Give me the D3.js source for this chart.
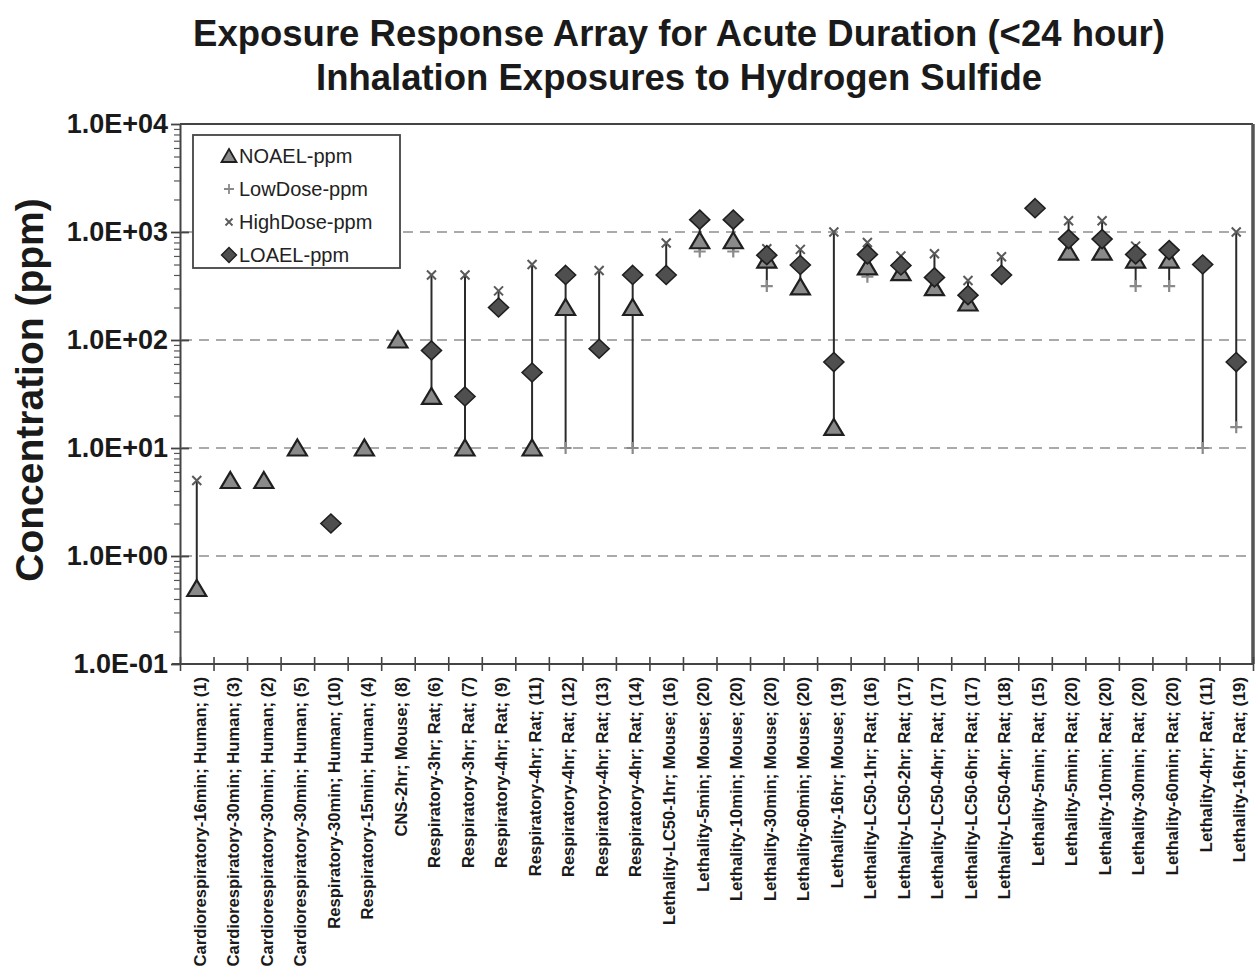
<!DOCTYPE html>
<html>
<head>
<meta charset="utf-8">
<script src="https://cdn.jsdelivr.net/npm/d3@7/dist/d3.min.js"></script>
<style>
  html, body { margin: 0; padding: 0; background: #fff; }
  svg { display: block; font-family: "Liberation Sans", Arial, Helvetica, sans-serif; }
</style>
</head>
<body>
<svg id="chart" width="1259" height="971"></svg>
<script>
// Study endpoints (x categories)
const categories = [
  "Cardiorespiratory-16min; Human; (1)",
  "Cardiorespiratory-30min; Human; (3)",
  "Cardiorespiratory-30min; Human; (2)",
  "Cardiorespiratory-30min; Human; (5)",
  "Respiratory-30min; Human; (10)",
  "Respiratory-15min; Human; (4)",
  "CNS-2hr; Mouse; (8)",
  "Respiratory-3hr; Rat; (6)",
  "Respiratory-3hr; Rat; (7)",
  "Respiratory-4hr; Rat; (9)",
  "Respiratory-4hr; Rat; (11)",
  "Respiratory-4hr; Rat; (12)",
  "Respiratory-4hr; Rat; (13)",
  "Respiratory-4hr; Rat; (14)",
  "Lethality-LC50-1hr; Mouse; (16)",
  "Lethality-5min; Mouse; (20)",
  "Lethality-10min; Mouse; (20)",
  "Lethality-30min; Mouse; (20)",
  "Lethality-60min; Mouse; (20)",
  "Lethality-16hr; Mouse; (19)",
  "Lethality-LC50-1hr; Rat; (16)",
  "Lethality-LC50-2hr; Rat; (17)",
  "Lethality-LC50-4hr; Rat; (17)",
  "Lethality-LC50-6hr; Rat; (17)",
  "Lethality-LC50-4hr; Rat; (18)",
  "Lethality-5min; Rat; (15)",
  "Lethality-5min; Rat; (20)",
  "Lethality-10min; Rat; (20)",
  "Lethality-30min; Rat; (20)",
  "Lethality-60min; Rat; (20)",
  "Lethality-4hr; Rat; (11)",
  "Lethality-16hr; Rat; (19)"
];

// Concentrations in ppm (null = not reported)
const noael = [0.5, 5, 5, 10, null, 10, 100, 30, 10, null, 10, 200, null, 200, null, 830,
               830, 550, 310, 15.5, 475, 420, 305, 220, null, null, 650, 650, 550, 550, null, null];
const lowDose = [null, null, null, null, null, null, null, null, null, null, null, 10, null, 10, null, 660,
                 660, 316, null, null, 385, null, null, null, null, null, null, null, 316, 316, 10, 15.6];
const highDose = [5, null, null, null, null, null, null, 400, 400, 285, 500, null, 440, null, 790, null,
                  null, 700, 690, 1000, 800, 600, 630, 355, 590, null, 1270, 1270, 740, null, null, 1000];
const loael = [null, null, null, null, 2, null, null, 80, 30, 200, 50, 400, 83, 400, 400, 1300,
               1300, 610, 495, 62.5, 620, 490, 380, 260, 400, 1660, 860, 860, 620, 680, 500, 62.5];

const yTickValues = [0.1, 1, 10, 100, 1000, 10000];
const gridValues = [1, 10, 100, 1000];

const seriesNames = ["NOAEL-ppm", "LowDose-ppm", "HighDose-ppm", "LOAEL-ppm"];

const svg = d3.select("#chart");
const plotLeft = 180, plotRight = 1253, plotTop = 124, plotBottom = 664;

const x = d3.scaleBand().domain(categories).range([plotLeft, plotRight]).padding(0);
const xEdge = d3.scaleLinear().domain([0, categories.length]).range([plotLeft, plotRight]);
const y = d3.scaleLog().domain([0.1, 10000]).range([plotBottom, plotTop]);
const cx = c => x(c) + x.bandwidth() / 2;

// Title
const title = svg.append("g").attr("font-weight", "bold").attr("fill", "#1a1a1a")
  .attr("text-anchor", "middle").attr("font-size", 36.5);
title.append("text").attr("x", 679).attr("y", 46).text("Exposure Response Array for Acute Duration (<24 hour)");
title.append("text").attr("x", 679).attr("y", 90).text("Inhalation Exposures to Hydrogen Sulfide");

// Y axis title
svg.append("text")
  .attr("transform", "translate(43,390) rotate(-90)")
  .attr("text-anchor", "middle")
  .attr("font-size", 39).attr("font-weight", "bold").attr("fill", "#1a1a1a")
  .text("Concentration (ppm)");

// Dashed gridlines
svg.append("g").selectAll("line").data(gridValues).join("line")
  .attr("x1", plotLeft + 2).attr("x2", plotRight - 2)
  .attr("y1", d => y(d)).attr("y2", d => y(d))
  .attr("stroke", "#8f8f8f").attr("stroke-width", 1.6)
  .attr("stroke-dasharray", "10,7");

// Frame top / right
svg.append("line").attr("x1", plotLeft).attr("x2", plotRight).attr("y1", plotTop).attr("y2", plotTop)
  .attr("stroke", "#444").attr("stroke-width", 2);
svg.append("line").attr("x1", plotRight).attr("x2", plotRight).attr("y1", plotTop).attr("y2", plotBottom)
  .attr("stroke", "#555").attr("stroke-width", 3.5);

// Y axis: major ticks with labels
const fmt = v => {
  const e = Math.round(Math.log10(v));
  return "1.0E" + (e < 0 ? "-" : "+") + String(Math.abs(e)).padStart(2, "0");
};
const yAxis = svg.append("g").attr("transform", `translate(${plotLeft},0)`)
  .call(d3.axisLeft(y).tickValues(yTickValues).tickFormat(fmt).tickSizeInner(9).tickSizeOuter(0).tickPadding(3));
yAxis.selectAll("text").attr("font-size", 27).attr("font-weight", "bold").attr("fill", "#1a1a1a")
  .attr("font-family", "'Liberation Sans', Arial, sans-serif");
yAxis.select(".domain").attr("stroke", "#444").attr("stroke-width", 2);
yAxis.selectAll(".tick line").attr("stroke", "#444").attr("stroke-width", 1.8);

// Y axis: major ticks extended inside
svg.append("g").attr("transform", `translate(${plotLeft},0)`)
  .call(d3.axisRight(y).tickValues(yTickValues.slice(1, -1)).tickFormat("").tickSizeInner(9).tickSizeOuter(0))
  .call(g => g.select(".domain").remove())
  .selectAll(".tick line").attr("stroke", "#444").attr("stroke-width", 1.8);

// Y axis: minor ticks
const minorValues = [];
for (let e = -1; e < 4; e++) for (let m = 2; m <= 9; m++) minorValues.push(m * Math.pow(10, e));
svg.append("g").attr("transform", `translate(${plotLeft},0)`)
  .call(d3.axisLeft(y).tickValues(minorValues).tickFormat("").tickSizeInner(6).tickSizeOuter(0))
  .call(g => g.select(".domain").remove())
  .selectAll(".tick line").attr("stroke", "#555").attr("stroke-width", 1.2);

// X axis: boundary ticks crossing the axis line
const edges = d3.range(0, categories.length + 1);
svg.append("g").attr("transform", `translate(0,${plotBottom})`)
  .call(d3.axisBottom(xEdge).tickValues(edges).tickFormat("").tickSizeInner(7).tickSizeOuter(0))
  .call(g => g.select(".domain").remove())
  .selectAll(".tick line").attr("stroke", "#444").attr("stroke-width", 1.6);
svg.append("g").attr("transform", `translate(0,${plotBottom})`)
  .call(d3.axisBottom(xEdge).tickValues(edges).tickFormat("").tickSizeInner(-7).tickSizeOuter(0))
  .call(g => g.select(".domain").remove())
  .selectAll(".tick line").attr("stroke", "#444").attr("stroke-width", 1.6);
svg.append("line").attr("x1", plotLeft - 8).attr("x2", plotRight).attr("y1", plotBottom).attr("y2", plotBottom)
  .attr("stroke", "#444").attr("stroke-width", 2.2);

// X axis category labels
const xAxis = svg.append("g").attr("transform", `translate(0,${plotBottom})`)
  .call(d3.axisBottom(x).tickSize(0).tickPadding(0));
xAxis.select(".domain").remove();
xAxis.selectAll("text")
  .attr("font-size", 16.6).attr("font-weight", "bold").attr("fill", "#1a1a1a")
  .attr("font-family", "'Liberation Sans', Arial, sans-serif")
  .attr("text-anchor", "end")
  .attr("transform", "translate(3,13) rotate(-90)")
  .attr("x", 0).attr("y", 0).attr("dy", "0.35em");

// Per-category records
const rows = categories.map((c, i) => ({
  c, vals: [noael[i], lowDose[i], highDose[i], loael[i]]
}));

// Range lines
svg.append("g").selectAll("line")
  .data(rows.filter(r => r.vals.filter(v => v != null).length > 1))
  .join("line")
  .attr("x1", r => cx(r.c)).attr("x2", r => cx(r.c))
  .attr("y1", r => y(d3.min(r.vals.filter(v => v != null))))
  .attr("y2", r => y(d3.max(r.vals.filter(v => v != null))))
  .attr("stroke", "#2b2b2b").attr("stroke-width", 2);

// Marker shapes
const triPath = "M0,-8.5L9.5,7.5L-9.5,7.5Z";
const diaPath = "M0,-9.5L10,0L0,9.5L-10,0Z";
const plusPath = "M-6,0L6,0M0,-6L0,6";
const crossPath = "M-4.5,-4.5L4.5,4.5M4.5,-4.5L-4.5,4.5";

function drawMarkers(values, draw) {
  const g = svg.append("g");
  const pts = categories.map((c, i) => ({ c, v: values[i] })).filter(d => d.v != null);
  draw(g.selectAll("path").data(pts).join("path")
    .attr("transform", d => `translate(${cx(d.c)},${y(d.v)})`));
}

drawMarkers(lowDose, s => s.attr("d", plusPath).attr("fill", "none").attr("stroke", "#8a8a8a").attr("stroke-width", 2.2));
drawMarkers(noael, s => s.attr("d", triPath).attr("fill", "#8a8a8a").attr("stroke", "#1f1f1f").attr("stroke-width", 2.2).attr("stroke-linejoin", "miter"));
drawMarkers(highDose, s => s.attr("d", crossPath).attr("fill", "none").attr("stroke", "#5a5a5a").attr("stroke-width", 2));
drawMarkers(loael, s => s.attr("d", diaPath).attr("fill", "#4f4f4f").attr("stroke", "#1f1f1f").attr("stroke-width", 1.6));

// Legend
const legend = svg.append("g");
legend.append("rect").attr("x", 193).attr("y", 135).attr("width", 207).attr("height", 133)
  .attr("fill", "#fff").attr("stroke", "#444").attr("stroke-width", 1.8);
const legendSymbols = [
  s => s.attr("d", "M0,-7L7.5,6L-7.5,6Z").attr("fill", "#8a8a8a").attr("stroke", "#1f1f1f").attr("stroke-width", 1.8),
  s => s.attr("d", "M-5,0L5,0M0,-5L0,5").attr("fill", "none").attr("stroke", "#8a8a8a").attr("stroke-width", 1.8),
  s => s.attr("d", "M-3.5,-3.5L3.5,3.5M3.5,-3.5L-3.5,3.5").attr("fill", "none").attr("stroke", "#5a5a5a").attr("stroke-width", 1.8),
  s => s.attr("d", "M0,-7.5L7.5,0L0,7.5L-7.5,0Z").attr("fill", "#4f4f4f").attr("stroke", "#1f1f1f").attr("stroke-width", 1.4)
];
seriesNames.forEach((name, i) => {
  const ly = 156 + i * 33;
  legendSymbols[i](legend.append("path").attr("transform", `translate(229,${ly})`));
  legend.append("text").attr("x", 239).attr("y", ly).attr("dy", "0.36em")
    .attr("font-size", 20).attr("fill", "#222").text(name);
});
</script>
</body>
</html>
